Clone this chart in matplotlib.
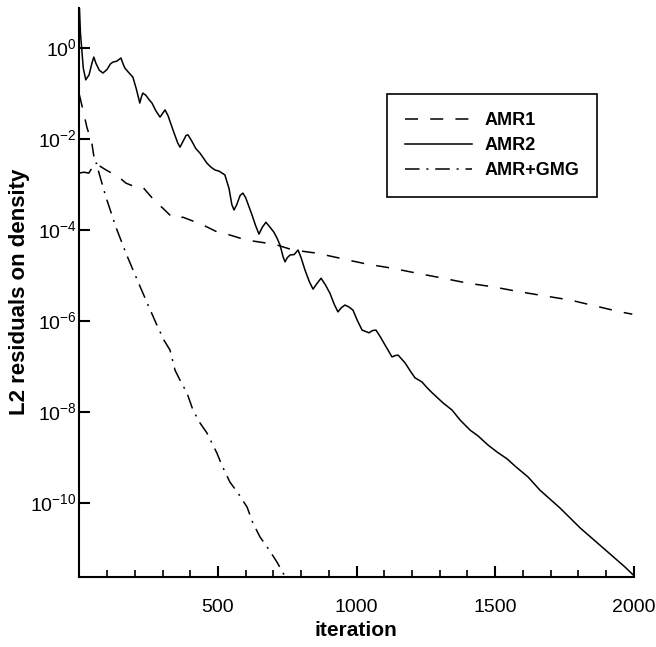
import numpy as np
import matplotlib
matplotlib.use('agg')
import matplotlib.pyplot as plt
from matplotlib.ticker import FixedLocator, NullLocator

# residual history, stored as log10 of the L2 residual
amr1_iter = [0, 13, 27, 45, 56, 96, 143, 168, 204, 229, 276, 301, 338, 374, 421,
             446, 496, 532, 580, 623, 677, 713, 760, 796, 857, 940, 984, 1038,
             1128, 1218, 1312, 1402, 1493, 1590, 1680, 1771, 1861, 1951, 1995]
amr1_log = [-1.04, -1.37, -1.75, -2.10, -2.54, -2.69, -2.85, -2.98, -3.07, -3.07,
            -3.40, -3.53, -3.75, -3.73, -3.84, -3.90, -4.05, -4.10, -4.19, -4.25,
            -4.30, -4.34, -4.43, -4.47, -4.52, -4.63, -4.69, -4.76, -4.85, -4.96,
            -5.07, -5.18, -5.26, -5.37, -5.46, -5.55, -5.68, -5.81, -5.86]

amr2_iter = [0, 4, 8, 14, 23, 35, 45, 52, 60, 72, 85, 100, 112, 121, 135, 150,
             157, 164, 178, 193, 205, 218, 224, 229, 240, 252, 262, 275, 291,
             300, 309, 320, 340, 355, 363, 375, 385, 392, 405, 420, 435, 450,
             460, 475, 489, 505, 525, 540, 550, 558, 568, 580, 590, 600, 612,
             623, 635, 648, 660, 673, 688, 702, 714, 724, 735, 742, 750, 760,
             775, 789, 800, 814, 830, 843, 858, 872, 888, 904, 920, 933, 945,
             958, 972, 987, 1003, 1020, 1045, 1058, 1070, 1085, 1103, 1128,
             1140, 1150, 1175, 1195, 1211, 1236, 1255, 1273, 1312, 1345, 1374,
             1410, 1439, 1475, 1507, 1543, 1572, 1619, 1662, 1734, 1807, 1890,
             1969, 1998]
amr2_log = [0.90, 0.30, 0.01, -0.45, -0.71, -0.60, -0.35, -0.21, -0.35, -0.50,
            -0.56, -0.48, -0.36, -0.32, -0.30, -0.23, -0.35, -0.45, -0.55, -0.65,
            -0.90, -1.22, -1.08, -1.00, -1.05, -1.15, -1.22, -1.38, -1.53, -1.45,
            -1.37, -1.50, -1.85, -2.10, -2.19, -2.05, -1.93, -1.92, -2.05, -2.22,
            -2.32, -2.45, -2.54, -2.63, -2.69, -2.72, -2.80, -3.10, -3.45, -3.57,
            -3.45, -3.25, -3.20, -3.30, -3.50, -3.68, -3.90, -4.10, -3.95, -3.84,
            -3.95, -4.06, -4.20, -4.34, -4.60, -4.71, -4.62, -4.56, -4.55, -4.45,
            -4.62, -4.89, -5.15, -5.31, -5.18, -5.07, -5.22, -5.40, -5.65, -5.81,
            -5.72, -5.66, -5.70, -5.77, -6.00, -6.21, -6.27, -6.22, -6.21, -6.35,
            -6.54, -6.80, -6.77, -6.76, -6.93, -7.12, -7.26, -7.35, -7.48, -7.59,
            -7.81, -7.97, -8.19, -8.41, -8.54, -8.74, -8.89, -9.04, -9.20, -9.44,
            -9.73, -10.12, -10.56, -11.00, -11.42, -11.59]

gmg_iter = [0, 16, 34, 52, 62, 70, 96, 132, 168, 204, 240, 276, 305, 327, 345,
            363, 388, 410, 435, 460, 496, 514, 543, 572, 605, 626, 652, 680, 713,
            745, 760]
gmg_log = [-2.76, -2.74, -2.76, -2.58, -2.54, -2.74, -3.29, -3.95, -4.52, -5.04,
           -5.55, -6.05, -6.43, -6.65, -7.09, -7.31, -7.59, -7.97, -8.25, -8.47,
           -8.91, -9.18, -9.55, -9.79, -10.10, -10.45, -10.76, -11.00, -11.31,
           -11.66, -11.81]

labels = ['AMR1', 'AMR2', 'AMR+GMG']
yticks = [1e0, 1e-2, 1e-4, 1e-6, 1e-8, 1e-10]
ytick_labels = [r'$10^{0}$', r'$10^{-2}$', r'$10^{-4}$', r'$10^{-6}$',
                r'$10^{-8}$', r'$10^{-10}$']
xticks = [500, 1000, 1500, 2000]

plt.rcParams['font.family'] = ['Liberation Sans', 'DejaVu Sans']
plt.rcParams['mathtext.fontset'] = 'custom'
plt.rcParams['mathtext.rm'] = 'Liberation Sans'
plt.rcParams['mathtext.it'] = 'Liberation Sans'

fig = plt.figure(figsize=(6.56, 6.47), dpi=100)
ax = fig.add_axes([0.121, 0.108, 0.845, 0.879])

lw = 1.1
ax.plot(amr1_iter, 10 ** np.array(amr1_log), color='black', lw=lw,
        linestyle=(0, (8.5, 8)), label=labels[0])
ax.plot(amr2_iter, 10 ** np.array(amr2_log), color='black', lw=lw,
        linestyle='-', label=labels[1])
ax.plot(gmg_iter, 10 ** np.array(gmg_log), color='black', lw=lw,
        linestyle=(0, (9.5, 4.5, 1.3, 4.5)), label=labels[2])

ax.set_yscale('log')
ax.set_xlim(0, 2000)
ax.set_ylim(10 ** -11.64, 10 ** 0.86)

ax.yaxis.set_major_locator(FixedLocator(yticks))
ax.yaxis.set_minor_locator(NullLocator())
ax.set_yticklabels(ytick_labels)
ax.xaxis.set_major_locator(FixedLocator(xticks))
ax.xaxis.set_minor_locator(FixedLocator([v for v in range(100, 2000, 100) if v % 500]))

for side in ['top', 'right']:
    ax.spines[side].set_visible(False)
for side in ['left', 'bottom']:
    ax.spines[side].set_linewidth(1.5)

ax.tick_params(axis='both', which='major', direction='in', length=8, width=1.5,
               labelsize=14)
ax.tick_params(axis='x', which='minor', direction='in', length=5, width=1.2)
ax.tick_params(axis='x', which='major', pad=16)
ax.tick_params(axis='y', which='major', pad=2)

fig.text(356 / 656, 1 - 630 / 647, 'iteration', ha='center', va='center',
         fontsize=15, fontweight='bold')
fig.text(20 / 656, 1 - 292 / 647, 'L2 residuals on density', ha='center',
         va='center', rotation=90, fontsize=16, fontweight='bold')

leg = ax.legend(loc='upper left', bbox_to_anchor=(387 / 656, 1 - 94 / 647),
                bbox_transform=fig.transFigure, borderaxespad=0, frameon=True,
                fancybox=False, edgecolor='black', framealpha=1,
                handlelength=3.7, handletextpad=0.7, labelspacing=0.45,
                borderpad=1.0, prop={'weight': 'bold', 'size': 13})
leg.get_frame().set_linewidth(1.2)

fig.savefig('out.png', dpi=100)
